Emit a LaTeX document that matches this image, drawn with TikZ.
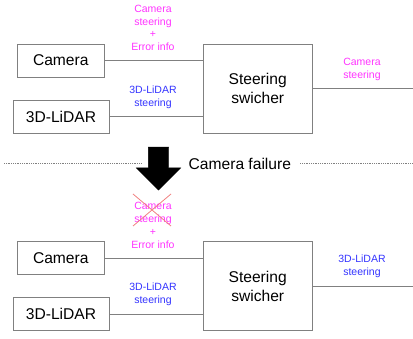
\documentclass[tikz,border=0pt]{standalone}
\usepackage{fontspec}
\setmainfont{Liberation Sans}
\usepackage{tikz}
\usetikzlibrary{shapes.arrows}

\definecolor{edgegray}{HTML}{808080}
\definecolor{camcol}{HTML}{FF33FF}
\definecolor{lidcol}{HTML}{3333FF}
\definecolor{crosscol}{HTML}{F08080}

\begin{document}
\begin{tikzpicture}[x=1pt, y=-1pt,
  box/.style={draw=edgegray, thick, minimum height=33pt, inner sep=0pt, align=center, font=\fontsize{15.6}{19}\selectfont},
  bigbox/.style={box, minimum width=108.7pt, minimum height=89pt},
  tag/.style={align=center, inner sep=0pt, font=\fontsize{10.5}{12.8}\selectfont},
  wire/.style={draw=edgegray, thick},
  sep/.style={draw=edgegray, densely dotted, thick}
]
\useasboundingbox (0,0) rectangle (413,339);

% normal operation
\node[box, minimum width=86.3pt] (cam) at (60.8, 60.5) {Camera};
\node[box, minimum width=96pt] (lid) at (61, 116.5) {3D-LiDAR};
\node[bigbox] (sw) at (257.7, 88.5) {Steering\\swicher};
\coordinate (out) at (413, 88.5);

\draw[wire] (cam.east) -- (cam.east -| sw.west);
\draw[wire] (lid.east) -- (lid.east -| sw.west);
\draw[wire] (sw.east) -- (out);

\node[tag, text=camcol] (camtag) at (153, 27.8) {Camera\\steering\\+\\Error info};
\node[tag, text=lidcol] (lidtag) at (153, 97) {3D-LiDAR\\steering};
\node[tag, text=camcol] (outtag) at (362, 69.5) {Camera\\steering};

% failure
\node[single arrow, fill=black, draw=black, shape border rotate=270,
  minimum height=43pt, inner sep=10pt, single arrow head extend=12pt] (down) at (158.5, 163.5) {};
\node[anchor=west, inner sep=0pt, font=\fontsize{15.6}{19}\selectfont] (failtxt) at (188.5, 163.5) {Camera failure};
\coordinate (sepL) at (4, 163.5);
\coordinate (sepR) at (412, 163.5);
\draw[sep] (sepL) -- ([xshift=-7pt]down.west |- sepL);
\draw[sep] ([xshift=9pt]failtxt.east) -- (sepR);

% after switching
\node[box, minimum width=86.3pt] (cam2) at (60.8, 258.2) {Camera};
\node[box, minimum width=96pt] (lid2) at (61, 314) {3D-LiDAR};
\node[bigbox] (sw2) at (257.7, 286) {Steering\\swicher};
\coordinate (out2) at (413, 286);

\draw[wire] (cam2.east) -- (cam2.east -| sw2.west);
\draw[wire] (lid2.east) -- (lid2.east -| sw2.west);
\draw[wire] (sw2.east) -- (out2);

\node[tag, text=camcol] (camtag2) at (153, 225.2) {Camera\\steering\\+\\Error info};
\node[tag, text=lidcol] (lidtag2) at (153, 294.5) {3D-LiDAR\\steering};
\node[tag, text=lidcol] (outtag2) at (362, 266) {3D-LiDAR\\steering};

% camera steering is dropped
\draw[crosscol, thick] (133, 194) -- (171, 226);
\draw[crosscol, thick] (171, 194) -- (133, 226);
\end{tikzpicture}
\end{document}
